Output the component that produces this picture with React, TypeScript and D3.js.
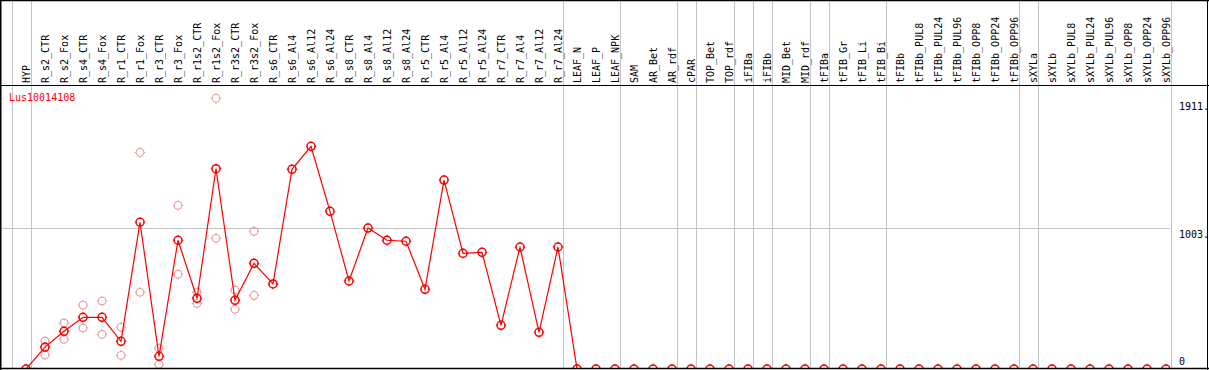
import React from "react";
import * as d3 from "d3";

const categories = [
  "HYP", "R_s2_CTR", "R_s2_Fox", "R_s4_CTR", "R_s4_Fox", "R_r1_CTR", "R_r1_Fox", "R_r3_CTR", "R_r3_Fox",
  "R_r1s2_CTR", "R_r1s2_Fox", "R_r3s2_CTR", "R_r3s2_Fox", "R_s6_CTR", "R_s6_Al4", "R_s6_Al12", "R_s6_Al24",
  "R_s8_CTR", "R_s8_Al4", "R_s8_Al12", "R_s8_Al24", "R_r5_CTR", "R_r5_Al4", "R_r5_Al12", "R_r5_Al24",
  "R_r7_CTR", "R_r7_Al4", "R_r7_Al12", "R_r7_Al24", "LEAF_N", "LEAF_P", "LEAF_NPK", "SAM", "AR_Bet", "AR_rdf",
  "cPAR", "TOP_Bet", "TOP_rdf", "iFIBa", "iFIBb", "MID_Bet", "MID_rdf", "tFIBa", "tFIB_Gr", "tFIB_Li", "tFIB_Bi",
  "tFIBb", "tFIBb_PUL8", "tFIBb_PUL24", "tFIBb_PUL96", "tFIBb_OPP8", "tFIBb_OPP24", "tFIBb_OPP96",
  "sXYLa", "sXYLb", "sXYLb_PUL8", "sXYLb_PUL24", "sXYLb_PUL96", "sXYLb_OPP8", "sXYLb_OPP24", "sXYLb_OPP96",
];

const meanValues = [
  0, 156, 268, 368, 368, 197, 1044, 90, 916, 503, 1425, 489, 752, 605, 1421, 1584, 1122,
  626, 1003, 916, 909, 567, 1344, 823, 830, 311, 868, 261, 868,
  0, 0, 0, 0, 0, 0, 0, 0, 0, 0, 0, 0, 0, 0, 0, 0, 0,
  0, 0, 0, 0, 0, 0, 0, 0, 0, 0, 0, 0, 0, 0, 0,
];

const replicateA: (number | null)[] = [
  null, 199, 327, 455, 484, 297, 1541, 147, 1164, 546, 1926, 562, 980,
];
const replicateB: (number | null)[] = [
  null, 100, 211, 292, 247, 97, 546, 33, 674, 467, 930, 425, 524,
];

// index of the last category in each group (separator drawn right after it)
const groupEnds = [-1, 0, 28, 31, 34, 35, 37, 38, 39, 41, 42, 45, 52, 53, 60];
const yTicks = [1911, 1003, 0];
const yTickLabels = ["1911.", "1003.", "0"];
const geneName = "Lus10014108";

const W = 1209;
const H = 370;
const RED = "#ff0000";
const PALE = "#e99a9a";
const GRID = "#c4c4c4";
const FONT = "'DejaVu Sans Mono', 'Liberation Mono', monospace";

function Marker({ cx, cy, color, sw }: { cx: number; cy: number; color: string; sw: number }) {
  const r = 4;
  return (
    <g>
      <circle cx={cx} cy={cy} r={r} fill="none" stroke={color} strokeWidth={sw} />
      <line x1={cx} y1={cy - r - 1.2} x2={cx} y2={cy - r + 0.5} stroke={color} strokeWidth={1} />
      <line x1={cx} y1={cy + r - 0.5} x2={cx} y2={cy + r + 1.2} stroke={color} strokeWidth={1} />
      <line x1={cx - r - 1.2} y1={cy} x2={cx - r + 0.5} y2={cy} stroke={color} strokeWidth={1} />
      <line x1={cx + r - 0.5} y1={cy} x2={cx + r + 1.2} y2={cy} stroke={color} strokeWidth={1} />
    </g>
  );
}

export default function App() {
  const x = d3.scalePoint<string>().domain(categories).range([26, 1166]).padding(0);
  const step = x.step();
  const y = d3.scaleLinear().domain([0, 1911]).range([369, 100.4]);

  const line = d3
    .line<number>()
    .x((_, i) => x(categories[i]) as number)
    .y((d) => y(d));

  const sepX = (i: number) => Math.round((x(categories[0]) as number) + i * step + 4.5) + 0.5;

  return (
    <svg
      width={W}
      height={H}
      style={{ position: "absolute", left: 0, top: 0, background: "#fff" }}
      fontFamily={FONT}
    >
      <defs>
        <clipPath id="plotClip">
          <rect x={1} y={86} width={1169} height={282} />
        </clipPath>
      </defs>
      <rect x={0} y={0} width={W} height={H} fill="#fff" />

      {/* vertical group separators */}
      {groupEnds.map((g) => (
        <line key={"s" + g} x1={sepX(g)} x2={sepX(g)} y1={0} y2={368} stroke={GRID} strokeWidth={1} />
      ))}

      {/* horizontal grid line */}
      <line x1={0} x2={1170} y1={Math.round(y(1003)) + 0.5} y2={Math.round(y(1003)) + 0.5} stroke={GRID} strokeWidth={1} />

      {/* header labels */}
      {categories.map((c) => {
        const cx = (x(c) as number) + 3.5;
        return (
          <text key={c} transform={`translate(${cx},83) rotate(-90)`} fontSize={10} fill="#000">
            {c}
          </text>
        );
      })}

      {/* gene name */}
      <text x={9} y={101} fontSize={10} fill={RED}>
        {geneName}
      </text>

      <g clipPath="url(#plotClip)">
        {/* replicates */}
        {[replicateA, replicateB].map((rep, k) =>
          rep.map((v, i) =>
            v == null ? null : (
              <Marker key={`r${k}-${i}`} cx={x(categories[i]) as number} cy={y(v)} color={PALE} sw={1} />
            )
          )
        )}
        {/* mean line */}
        <path d={line(meanValues) || ""} fill="none" stroke={RED} strokeWidth={1.2} />
        {meanValues.map((v, i) => (
          <Marker key={"m" + i} cx={x(categories[i]) as number} cy={y(v)} color={RED} sw={1.5} />
        ))}
      </g>

      {/* y-axis labels */}
      {yTicks.map((t, i) => (
        <text
          key={"t" + t}
          x={1179}
          y={t === 0 ? y(t) - 4 : y(t) + 9.5}
          fontSize={10}
          fill="#000"
        >
          {yTickLabels[i]}
        </text>
      ))}

      {/* frame */}
      <line x1={0} x2={W} y1={0.5} y2={0.5} stroke="#000" strokeWidth={1.5} />
      <line x1={0} x2={W} y1={85.5} y2={85.5} stroke="#000" strokeWidth={1} />
      <line x1={0} x2={W} y1={368.5} y2={368.5} stroke="#000" strokeWidth={1.5} />
      <line x1={0.75} x2={0.75} y1={0} y2={H} stroke="#000" strokeWidth={1.5} />
      <line x1={1207.5} x2={1207.5} y1={0} y2={H} stroke="#000" strokeWidth={1} />
    </svg>
  );
}
